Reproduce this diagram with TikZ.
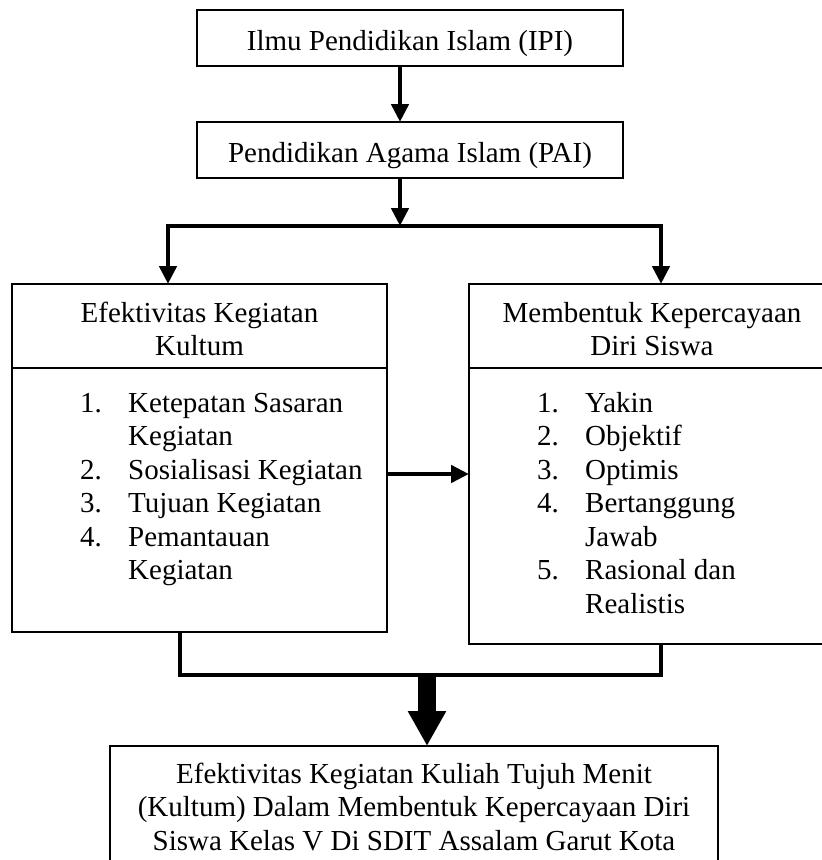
\documentclass[tikz,border=0pt]{standalone}
\usepackage{fontspec}
\setmainfont{Liberation Serif}
\usetikzlibrary{positioning}
\usetikzlibrary{arrows.meta}
\tikzstyle{box} = [rectangle, draw=black, line width=1.5pt, inner sep=0pt, outer sep=0pt]
\tikzstyle{txt} = [inner sep=0pt, font=\fontsize{29}{33.5}\selectfont]
\tikzstyle{oneline} = [box, txt, text height=24pt, text depth=0pt,
minimum width=426pt, minimum height=56pt]
\tikzstyle{link} = [line width=4.6pt]
\tikzstyle{bigarrow} = [line width=18pt, -{Triangle[width=36pt,length=35pt]}]
\tikzset{>={Triangle[width=17pt,length=18pt]}}
\newcommand{\textstack}[1]{\begin{tabular}[t]{@{}c@{}}#1\end{tabular}}
\newcommand{\itemstack}[1]{\begin{tabular}[t]{@{}p{48pt}@{}l@{}}#1\end{tabular}}

\begin{document}
\begin{tikzpicture}[x=1pt, y=-1pt]
  \useasboundingbox (0,0) rectangle (822,860);
  \clip (0,0) rectangle (822,860);

  \node[oneline] (ipi) at (410,38) {Ilmu Pendidikan Islam (IPI)};
  \node[oneline, below=56pt of ipi] (pai) {Pendidikan Agama Islam (PAI)};

  % two columns
  \node[box, minimum width=375pt, minimum height=84pt] (kultum) at (199.5,326) {};
  \node[box, minimum width=375pt, minimum height=264pt, below=0pt of kultum] (kultumbody) {};
  \node[box, minimum width=371pt, minimum height=84pt, right=82pt of kultum] (pd) {};
  \node[box, minimum width=371pt, minimum height=276pt, below=0pt of pd] (pdbody) {};

  \node[txt, anchor=base] (kultumtitle) at (199.5,322) {\textstack{Efektivitas Kegiatan\\Kultum}};
  \node[txt, anchor=base] (pdtitle) at (652,322) {\textstack{Membentuk Kepercayaan\\Diri Siswa}};
  \node[txt, anchor=base west] (kultumitems) at (80,412)
    {\itemstack{1. & Ketepatan Sasaran\\ & Kegiatan\\ 2. & Sosialisasi Kegiatan\\
      3. & Tujuan Kegiatan\\ 4. & Pemantauan\\ & Kegiatan}};
  \node[txt, anchor=base west] (pditems) at (537,412)
    {\itemstack{1. & Yakin\\ 2. & Objektif\\ 3. & Optimis\\ 4. & Bertanggung\\
      & Jawab\\ 5. & Rasional dan\\ & Realistis}};

  \node[box, minimum width=608pt, minimum height=150pt, anchor=north] (hasil) at (414,746) {};
  \node[txt, anchor=base] (hasiltext) at (414,783)
    {\textstack{Efektivitas Kegiatan Kuliah Tujuh Menit\\(Kultum) Dalam Membentuk Kepercayaan Diri\\Siswa Kelas V Di SDIT Assalam Garut Kota}};

  % connectors
  \coordinate (split) at (400,226);
  \coordinate (lefttop) at (168,226);
  \coordinate (righttop) at (661,226);
  \coordinate (mid) at (0,474);
  \coordinate (leftfoot) at (180,675);
  \coordinate (rightfoot) at (661,675);
  \coordinate (join) at (427,675);

  \draw[link, ->] (ipi.south -| split) -- (pai.north -| split);
  \draw[link, ->] (pai.south -| split) -- (split);
  \draw[link, ->] (split) -- (lefttop) -- (lefttop |- kultum.north);
  \draw[link, ->] (split) -- (righttop) -- (righttop |- pd.north);
  \draw[link, ->] (kultumbody.east |- mid) -- (pdbody.west |- mid);
  \draw[link] (leftfoot |- kultumbody.south) -- (leftfoot) -- (rightfoot) -- (rightfoot |- pdbody.south);
  \draw[bigarrow] (join) -- (hasil.north -| join);
\end{tikzpicture}
\end{document}
